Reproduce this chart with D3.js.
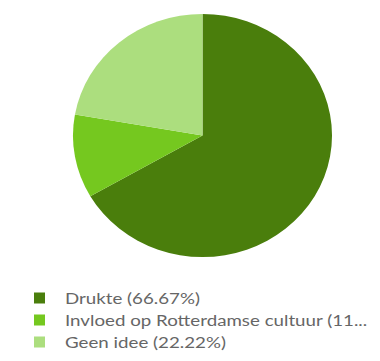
<!DOCTYPE html>
<html>
<head>
<meta charset="utf-8">
<script src="https://cdn.jsdelivr.net/npm/d3@7"></script>
<style>
  html, body { margin: 0; padding: 0; background: #fff; }
  svg { display: block; }
</style>
</head>
<body>
<svg id="chart" width="380" height="361"></svg>
<script>
// Answer categories and their shares (percent)
const categories = ["Drukte", "Invloed op Rotterdamse cultuur", "Geen idee"];
const shares = [66.67, 11.11, 22.22];
const legendLabels = ["Drukte (66.67%)", "Invloed op Rotterdamse cultuur (11...", "Geen idee (22.22%)"];
const colors = ["#4a7e0c", "#75c81f", "#acde7e"];

const svg = d3.select("#chart");

const color = d3.scaleOrdinal().domain(categories).range(colors);

const radius = 121.5;
const pie = d3.pie().sort(null).value(d => d.value);
const arc = d3.arc().innerRadius(0).outerRadius(radius);

const data = categories.map((c, i) => ({ name: c, value: shares[i] }));

const g = svg.append("g")
  .attr("transform", "translate(202.5,135.5) scale(1.066,1)");

g.selectAll("path")
  .data(pie(data))
  .join("path")
  .attr("d", arc)
  .attr("fill", d => color(d.data.name));

// Legend below the pie
const legend = svg.append("g").attr("transform", "translate(34,292.5)");
const row = legend.selectAll("g")
  .data(categories)
  .join("g")
  .attr("transform", (d, i) => `translate(0,${i * 22})`);

row.append("rect")
  .attr("width", 11)
  .attr("height", 11)
  .attr("fill", d => color(d));

row.append("text")
  .attr("transform", "translate(31,5.5) scale(1.17,1)")
  .attr("dy", "0.35em")
  .attr("font-family", "Lato, sans-serif")
  .attr("font-size", 16)
  .attr("fill", "#666")
  .text((d, i) => legendLabels[i]);
</script>
</body>
</html>
